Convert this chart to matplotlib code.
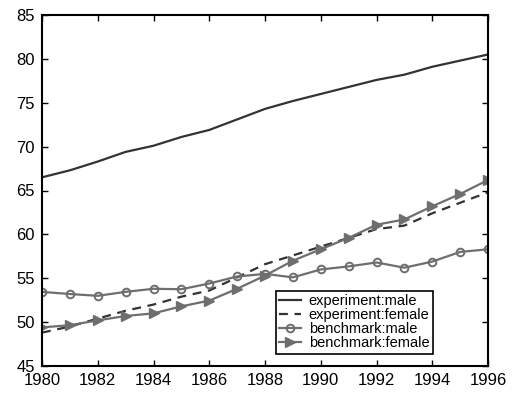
import numpy as np
import matplotlib
matplotlib.use("Agg")
import matplotlib.pyplot as plt

plt.rcParams['font.family'] = ['Liberation Sans', 'DejaVu Sans']

years = np.arange(1980, 1997)

exp_male = [66.5, 67.3, 68.3, 69.4, 70.1, 71.1, 71.9, 73.1, 74.3, 75.2,
            76.0, 76.8, 77.6, 78.2, 79.1, 79.8, 80.5]
exp_female = [48.8, 49.5, 50.4, 51.3, 52.0, 52.9, 53.6, 55.1, 56.6, 57.6,
              58.6, 59.6, 60.6, 61.0, 62.4, 63.6, 64.8]
bench_male = [53.45, 53.2, 53.0, 53.45, 53.8, 53.75, 54.4, 55.2, 55.5, 55.1,
              56.0, 56.35, 56.8, 56.2, 56.9, 58.0, 58.3]
bench_female = [49.4, 49.65, 50.2, 50.7, 51.0, 51.8, 52.45, 53.8, 55.3, 57.0,
                58.3, 59.6, 61.1, 61.7, 63.2, 64.6, 66.2]

labels = ['experiment:male', 'experiment:female', 'benchmark:male', 'benchmark:female']

fig = plt.figure(figsize=(5.13, 3.93), dpi=100)
ax = fig.add_axes([42 / 513, 1 - 366 / 393, 446 / 513, 351 / 393])

dark = '#333333'
grey = '#6e6e6e'
ax.plot(years, exp_male, color=dark, lw=1.6, label=labels[0])
ax.plot(years, exp_female, color=dark, lw=1.6, ls=(0, (4, 3)), label=labels[1])
ax.plot(years, bench_male, color=grey, lw=1.6, marker='o', ms=5.5,
        mfc='none', mec=grey, mew=1.4, label=labels[2])
ax.plot(years, bench_female, color=grey, lw=1.6, marker='>', ms=7,
        mfc=grey, mec=grey, label=labels[3])

ax.set_xlim(1980, 1996)
ax.set_ylim(45, 85)
ax.set_xticks(np.arange(1980, 1997, 2))
ax.set_yticks(np.arange(45, 86, 5))
ax.tick_params(direction='in', length=4, width=1, top=True, right=True,
               labelsize=12, pad=5)
for s in ax.spines.values():
    s.set_linewidth(1.5)

leg = ax.legend(loc='lower right', bbox_to_anchor=(433 / 513, 1 - 354 / 393),
                bbox_transform=fig.transFigure, fontsize=10.5, labelspacing=0.0,
                handlelength=1.5, handletextpad=0.5, borderpad=0.25,
                borderaxespad=0, fancybox=False, framealpha=1)
leg.get_frame().set_edgecolor('black')
leg.get_frame().set_linewidth(1.2)

fig.savefig('out.png', dpi=100)
